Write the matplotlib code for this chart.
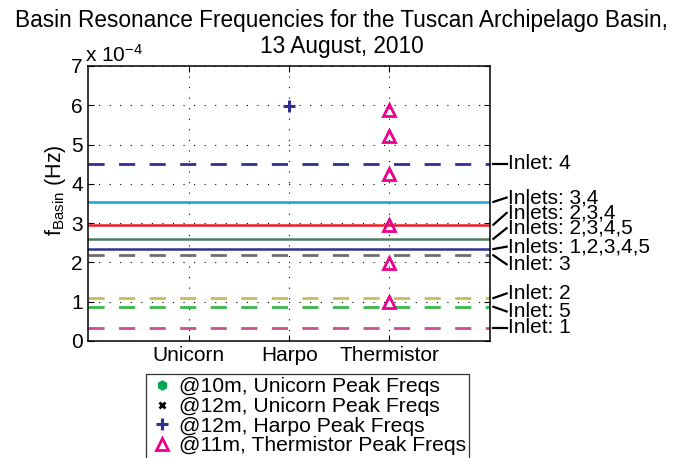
import matplotlib
matplotlib.use('Agg')
import matplotlib.pyplot as plt
import matplotlib.transforms as mtransforms
from matplotlib.ticker import FuncFormatter

plt.rcParams['font.family'] = ['Liberation Sans', 'DejaVu Sans']
plt.rcParams['mathtext.fontset'] = 'custom'
plt.rcParams['mathtext.rm'] = 'Liberation Sans'
plt.rcParams['mathtext.it'] = 'Liberation Sans:italic'

# sites along the x axis
categories = ['Unicorn', 'Harpo', 'Thermistor']
cat_x = [1, 2, 3]

# basin resonance frequencies (Hz) for each inlet combination
inlet_labels = ['Inlet: 4', 'Inlets: 3,4', 'Inlets: 2,3,4', 'Inlets: 2,3,4,5',
                'Inlets: 1,2,3,4,5', 'Inlet: 3', 'Inlet: 2', 'Inlet: 5', 'Inlet: 1']
inlet_freqs = [4.51e-4, 3.54e-4, 2.96e-4, 2.60e-4, 2.34e-4, 2.18e-4, 1.09e-4, 0.87e-4, 0.34e-4]
inlet_colors = ['#2e3192', '#1ba3d3', '#ed1c24', '#4d7d5e', '#2e3192',
                '#6d6e70', '#cbbb58', '#39b54a', '#c9508f']
inlet_dashed = [True, False, False, False, False, True, True, True, True]

# observed peak frequencies (Hz)
unicorn10_peaks = []
unicorn12_peaks = []
harpo_peaks = [5.98e-4]
thermistor_peaks = [5.87e-4, 5.22e-4, 4.25e-4, 2.96e-4, 1.99e-4, 1.00e-4]

# where the right hand labels sit (layout only)
label_y = [4.51e-4, 3.65e-4, 3.26e-4, 2.87e-4, 2.40e-4, 1.95e-4, 1.21e-4, 0.75e-4, 0.34e-4]

fig = plt.figure(figsize=(6.78, 4.58), dpi=100)
ax = fig.add_axes([0.1305, 0.2556, 0.5919, 0.6003])

for f, c, d in zip(inlet_freqs, inlet_colors, inlet_dashed):
    if d:
        ax.plot([0, 4], [f, f], color=c, lw=2, linestyle=(0, (5.8, 5.2)), zorder=2)
    else:
        ax.plot([0, 4], [f, f], color=c, lw=1.8, zorder=2)

ax.plot([cat_x[0]] * len(unicorn10_peaks), unicorn10_peaks, linestyle='none', marker='h',
        color='#00a651', ms=6.5, label='@10m, Unicorn Peak Freqs')
ax.plot([cat_x[0]] * len(unicorn12_peaks), unicorn12_peaks, linestyle='none', marker='x',
        color='k', ms=5, mew=2, label='@12m, Unicorn Peak Freqs')
ax.plot([cat_x[1]] * len(harpo_peaks), harpo_peaks, linestyle='none', marker='+',
        color='#2e3192', ms=8, mew=2.2, label='@12m, Harpo Peak Freqs', zorder=4)
ax.plot([cat_x[2]] * len(thermistor_peaks), thermistor_peaks, linestyle='none', marker='^',
        mfc='none', mec='#ec008c', ms=8, mew=2, label='@11m, Thermistor Peak Freqs', zorder=4)

ax.set_xlim(0, 4)
ax.set_ylim(0, 7e-4)
ax.set_xticks(cat_x)
ax.set_xticklabels(categories)
ax.set_yticks([i * 1e-4 for i in range(8)])
ax.yaxis.set_major_formatter(FuncFormatter(lambda v, p: '%d' % round(v / 1e-4)))
ax.tick_params(direction='in', length=4, width=0.8, labelsize=15, pad=4,
               top=True, right=True)
ax.grid(True, color='k', lw=0.8, linestyle=(0, (1, 8.5)))
for s in ax.spines.values():
    s.set_linewidth(1.1)

ax.text(-0.009, 1.016, r'x 10$^{-4}$', transform=ax.transAxes, fontsize=15, va='baseline')
ax.set_ylabel(r'f$_{\rm Basin}$ (Hz)', fontsize=15.5)
ax.yaxis.set_label_coords(-0.052, 0.55)

fig.text(0.504, 1 - 53.3 / 458, 'Basin Resonance Frequencies for the Tuscan Archipelago Basin,\n13 August, 2010',
         ha='center', va='baseline', fontsize=16.3, linespacing=1.2)

# labels on the right with leader lines
tr = mtransforms.blended_transform_factory(ax.transAxes, ax.transData)
for lab, f, ly in zip(inlet_labels, inlet_freqs, label_y):
    ax.plot([1.009, 1.042], [f, ly], color='k', lw=1.6, transform=tr, clip_on=False)
    ax.text(1.046, ly, lab, transform=tr, fontsize=15, va='center', ha='left')

leg = fig.legend(loc='upper left', bbox_to_anchor=(0.2153, 0.1827), fontsize=15.2,
                 frameon=True, fancybox=False, borderpad=0.15, labelspacing=0.03,
                 handlelength=1.2, handletextpad=0.2, borderaxespad=0, numpoints=1)
leg.get_frame().set_edgecolor('k')
leg.get_frame().set_linewidth(0.9)

fig.savefig('out.png', dpi=100)
